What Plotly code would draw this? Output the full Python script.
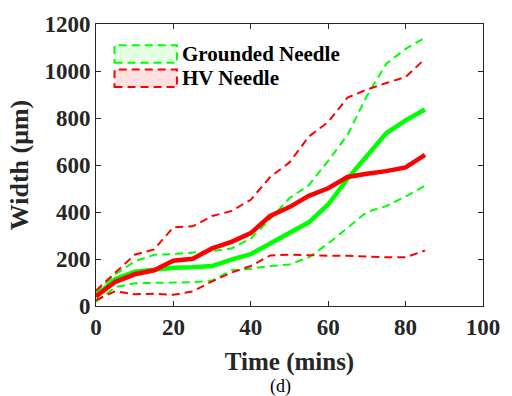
import plotly.graph_objects as go

time = [0, 5, 10, 15, 20, 25, 30, 35, 40, 45, 50, 55, 60, 65, 70, 75, 80, 85]
grounded_mean = [42, 115, 146, 156, 163, 165, 170, 197, 221, 266, 310, 356, 432, 542, 638, 735, 790, 836]
grounded_upper = [60, 135, 190, 218, 221, 228, 234, 245, 287, 370, 459, 514, 618, 728, 894, 1031, 1094, 1142]
grounded_lower = [18, 80, 97, 98, 98, 101, 108, 152, 159, 170, 177, 207, 266, 335, 400, 425, 466, 512]
hv_mean = [41, 103, 135, 152, 193, 201, 245, 273, 310, 383, 421, 469, 501, 549, 563, 574, 590, 643]
hv_upper = [66, 142, 218, 241, 335, 339, 383, 404, 452, 549, 611, 721, 783, 887, 921, 949, 974, 1052]
hv_lower = [25, 63, 50, 52, 48, 62, 105, 142, 170, 215, 218, 215, 214, 214, 210, 207, 207, 236]

legend_labels = ["Grounded Needle", "HV Needle"]

GREEN = "#00FF00"
RED = "#FF0000"
FONT = "Liberation Serif"
DASH = "8px,5px"

fig = go.Figure()
for series, color, width, dash in [
    (grounded_upper, GREEN, 2, DASH),
    (grounded_lower, GREEN, 2, DASH),
    (hv_upper, RED, 2, DASH),
    (hv_lower, RED, 2, DASH),
    (grounded_mean, GREEN, 4.5, "solid"),
    (hv_mean, RED, 4.5, "solid"),
]:
    fig.add_trace(go.Scatter(x=time, y=series, mode="lines",
                             line=dict(color=color, width=width, dash=dash),
                             showlegend=False))

L, R, T, B = 96, 19, 15, 90
W, H = 512, 396
pw, ph = W - L - R, H - T - B
def px(x):
    return (x - L) / pw
def py(y):
    return (H - B - y) / ph

shapes = []
annotations = []
legend_styles = [(GREEN, "rgba(0,255,0,0.10)"), (RED, "rgba(255,0,0,0.12)")]
for i, (label, (lc, fc)) in enumerate(zip(legend_labels, legend_styles)):
    top = 37 + i * 25
    shapes.append(dict(type="rect", xref="paper", yref="paper",
                       x0=px(115), x1=px(179), y0=py(top + 18), y1=py(top),
                       fillcolor=fc, line=dict(color=lc, width=2, dash=DASH), layer="above"))
    annotations.append(dict(text=label, xref="paper", yref="paper", x=px(182), y=py(top + 9),
                            xanchor="left", yanchor="middle", showarrow=False,
                            font=dict(family=FONT, size=21, color="#000000", weight="bold")))
annotations.append(dict(text="(d)", xref="paper", yref="paper", x=px(285), y=py(389),
                        xanchor="center", yanchor="middle", showarrow=False,
                        font=dict(family=FONT, size=18, color="#000000")))

axis_common = dict(showline=True, linecolor="#262626", linewidth=1, mirror="ticks",
                   ticks="inside", ticklen=5, tickcolor="#262626", showgrid=False,
                   zeroline=False, tickfont=dict(family=FONT, size=23, color="#262626", weight="bold"))

fig.update_layout(
    width=W, height=H,
    margin=dict(l=L, r=R, t=T, b=B),
    paper_bgcolor="white", plot_bgcolor="white",
    shapes=shapes, annotations=annotations,
    xaxis=dict(range=[0, 100], tickvals=[0, 20, 40, 60, 80, 100],
               title=dict(text="Time (mins)", font=dict(family=FONT, size=25, color="#262626", weight="bold"), standoff=13),
               **axis_common),
    yaxis=dict(range=[0, 1200], tickvals=[0, 200, 400, 600, 800, 1000, 1200],
               title=dict(text="Width (μm)", font=dict(family=FONT, size=26, color="#262626", weight="bold"), standoff=8),
               **axis_common),
    showlegend=False,
)

fig.write_html("out.html")
